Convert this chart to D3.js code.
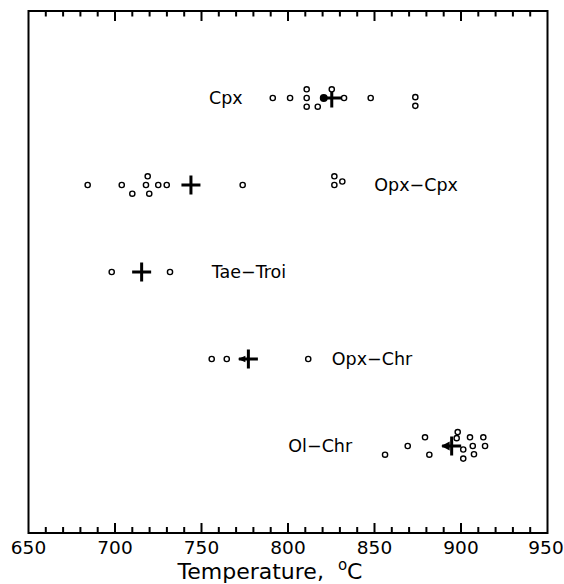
<!DOCTYPE html>
<html>
<head>
<meta charset="utf-8">
<script src="https://cdn.jsdelivr.net/npm/d3@7"></script>
<style>
  body { margin: 0; background: #fff; }
  text { font-family: "DejaVu Sans", sans-serif; fill: #000; }
</style>
</head>
<body>
<script>
// rows, top to bottom
var rows = ["Cpx", "Opx\u2212Cpx", "Tae\u2212Troi", "Opx\u2212Chr", "Ol\u2212Chr"];

// individual temperatures and their stack level (piled circles)
var cpxT   = [791.2, 801.2, 810.8, 810.8, 810.8, 817.2, 825.3, 832.4, 847.8, 873.6, 873.6];
var cpxLvl = [0, 0, -1, 0, 1, 1, -1, 0, 0, -0.1, 0.9];
var opxCpxT   = [684.2, 703.9, 710, 718.9, 717.9, 719.8, 725, 729.9, 773.8, 826.8, 826.8, 831.4];
var opxCpxLvl = [0, 0, 1, -1, 0, 1, 0, 0, 0, -1, 0, -0.4];
var taeT   = [698.1, 731.8];
var taeLvl = [0, 0];
var opxChrT   = [755.9, 764.6, 811.7];
var opxChrLvl = [0, 0, 0];
var olChrT   = [856.1, 869.2, 879.2, 881.7, 898.1, 897.5, 901.3, 901.3, 905.2, 906.8, 907.5, 912.9, 913.9];
var olChrLvl = [1, 0, -1, 1, -1.6, -0.9, 0.4, 1.45, -1, 0, 0.95, -1, 0];

// mean of each row (the big cross) and its left tip
var means = [825.3, 743.9, 715.4, 777.1, 894.6];
var tips = ["dot", "none", "none", "wedge", "arrow"];
// temperature where each label begins
var labelAt = [754.3, 849.9, 755.9, 825.3, 800.2];

var xTicks = [650, 700, 750, 800, 850, 900, 950];

var width = 564, height = 584;
var pLeft = 28.5, pRight = 547.5, pTop = 11, pBottom = 533;
var lvlStep = 8.7;

var pts = [];
[[cpxT, cpxLvl], [opxCpxT, opxCpxLvl], [taeT, taeLvl], [opxChrT, opxChrLvl], [olChrT, olChrLvl]]
  .forEach(function(r, i) {
    r[0].forEach(function(t, j) { pts.push({row: i, t: t, lvl: r[1][j]}); });
  });

var x = d3.scaleLinear().domain([650, 950]).range([pLeft, pRight]);
var y = d3.scaleLinear().domain([0, 6]).range([pTop, pBottom]);

var svg = d3.select("body")
            .append("svg")
            .attr("width", width)
            .attr("height", height);

// ticks every 10, longer every 50, pointing inside on bottom and top edges
var minor = d3.range(660, 950, 10);

svg.append("g")
   .selectAll("line")
   .data(minor)
   .enter()
   .append("line")
   .attr("x1", function(d) { return x(d); })
   .attr("x2", function(d) { return x(d); })
   .attr("y1", pBottom)
   .attr("y2", function(d) { return d % 50 === 0 ? pBottom - 10 : pBottom - 6; })
   .attr("stroke", "#000")
   .attr("stroke-width", 2);

svg.append("g")
   .selectAll("line")
   .data(minor)
   .enter()
   .append("line")
   .attr("x1", function(d) { return x(d); })
   .attr("x2", function(d) { return x(d); })
   .attr("y1", pTop)
   .attr("y2", function(d) { return d % 50 === 0 ? pTop + 10 : pTop + 5.5; })
   .attr("stroke", "#000")
   .attr("stroke-width", 2);

svg.append("g")
   .selectAll("text")
   .data(xTicks)
   .enter()
   .append("text")
   .attr("x", function(d) { return Math.min(x(d), width - 18); })
   .attr("y", 554)
   .attr("text-anchor", "middle")
   .attr("font-size", "18.5px")
   .text(function(d) { return d; });

// frame
svg.append("rect")
   .attr("x", pLeft)
   .attr("y", pTop)
   .attr("width", pRight - pLeft)
   .attr("height", pBottom - pTop)
   .attr("fill", "none")
   .attr("stroke", "#000")
   .attr("stroke-width", 2);

// row labels
svg.selectAll("text.lab")
   .data(rows)
   .enter()
   .append("text")
   .attr("class", "lab")
   .attr("x", function(d, i) { return x(labelAt[i]); })
   .attr("y", function(d, i) { return y(i + 1); })
   .attr("dy", "0.36em")
   .attr("font-size", "17.5px")
   .text(function(d) { return d; });

// mean crosses
var cross = svg.append("g")
   .selectAll("g")
   .data(means)
   .enter()
   .append("g")
   .attr("transform", function(d, i) { return "translate(" + x(d) + "," + y(i + 1) + ")"; });

cross.append("path")
   .attr("d", "M-9.5,0H9.5M0,-9.5V9.5")
   .attr("stroke", "#000")
   .attr("stroke-width", 3)
   .attr("fill", "none");

cross.filter(function(d, i) { return tips[i] === "dot"; })
   .append("circle")
   .attr("cx", -8)
   .attr("r", 4)
   .attr("fill", "#000");

cross.filter(function(d, i) { return tips[i] === "wedge"; })
   .append("path")
   .attr("d", "M-10.5,0L-3,-3.2L-3,3.2Z")
   .attr("fill", "#000");

cross.filter(function(d, i) { return tips[i] === "arrow"; })
   .append("path")
   .attr("d", "M-10.5,0L-2,-4.5L-2,4.5Z")
   .attr("fill", "#000");

// individual estimates
svg.append("g")
   .selectAll("circle")
   .data(pts)
   .enter()
   .append("circle")
   .attr("cx", function(d) { return x(d.t); })
   .attr("cy", function(d) { return y(d.row + 1) + d.lvl * lvlStep; })
   .attr("r", 2.6)
   .attr("fill", "#fff")
   .attr("stroke", "#000")
   .attr("stroke-width", 1.4);

// axis title
var title = svg.append("text")
   .attr("x", 270)
   .attr("y", 579)
   .attr("text-anchor", "middle")
   .attr("font-size", "22px");
title.append("tspan").text("Temperature,\u00a0\u00a0");
title.append("tspan").attr("font-size", "15px").attr("dy", "-9").text("o");
title.append("tspan").attr("dy", "9").text("C");
</script>
</body>
</html>
